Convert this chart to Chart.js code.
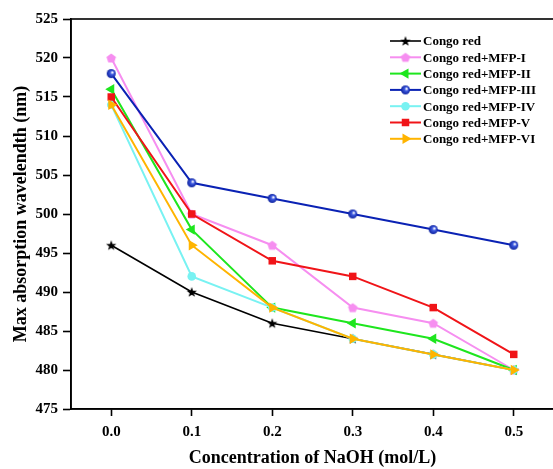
<!DOCTYPE html>
<html>
<head>
<meta charset="utf-8">
<script src="https://cdn.jsdelivr.net/npm/chart.js@4.4.1/dist/chart.umd.min.js"></script>
<style>
    html, body { margin: 0; padding: 0; overflow: hidden; background: #fff; }
    #wrap { width: 553px; height: 469px; overflow: hidden; }
</style>
</head>
<body>
<div id="wrap"><canvas id="chart" width="560" height="469"></canvas></div>
<script>
const concentrations = [0.0, 0.1, 0.2, 0.3, 0.4, 0.5];
const xTicks = [0.0, 0.1, 0.2, 0.3, 0.4, 0.5];
const yTicks = [475, 480, 485, 490, 495, 500, 505, 510, 515, 520, 525];

const seriesNames = [
    'Congo red', 'Congo red+MFP-I', 'Congo red+MFP-II', 'Congo red+MFP-III',
    'Congo red+MFP-IV', 'Congo red+MFP-V', 'Congo red+MFP-VI'
];
const congoRed = [496, 490, 486, 484, 482, 480];
const mfp1 = [520, 500, 496, 488, 486, 480];
const mfp2 = [516, 498, 488, 486, 484, 480];
const mfp3 = [518, 504, 502, 500, 498, 496];
const mfp4 = [514, 492, 488, 484, 482, 480];
const mfp5 = [515, 500, 494, 492, 488, 482];
const mfp6 = [514, 496, 488, 484, 482, 480];

const FONT = "'Liberation Serif', 'Times New Roman', serif";

// small canvases used as custom point markers
const makeMarker = (size, draw) => {
    const c = document.createElement('canvas');
    c.width = size;
    c.height = size;
    draw(c.getContext('2d'), size / 2);
    return c;
};

const starMarker = makeMarker(12, (ctx, m) => {
    ctx.fillStyle = '#000';
    ctx.beginPath();
    for (let i = 0; i < 10; i++) {
        const r = i % 2 === 0 ? 5.4 : 2.2;
        const a = -Math.PI / 2 + i * Math.PI / 5;
        ctx.lineTo(m + r * Math.cos(a), m + 0.5 + r * Math.sin(a));
    }
    ctx.closePath();
    ctx.fill();
});

const pentagonMarker = makeMarker(12, (ctx, m) => {
    ctx.fillStyle = '#f68ef0';
    ctx.beginPath();
    for (let i = 0; i < 5; i++) {
        const a = -Math.PI / 2 + i * 2 * Math.PI / 5;
        ctx.lineTo(m + 5 * Math.cos(a), m + 0.5 + 5 * Math.sin(a));
    }
    ctx.closePath();
    ctx.fill();
});

const sphereMarker = makeMarker(11, (ctx, m) => {
    const g = ctx.createRadialGradient(m + 1.3, m - 1.3, 0.4, m, m, 4.6);
    g.addColorStop(0, '#ffffff');
    g.addColorStop(0.35, '#3f5be0');
    g.addColorStop(1, '#0a1f9c');
    ctx.fillStyle = g;
    ctx.beginPath();
    ctx.arc(m, m, 4.5, 0, Math.PI * 2);
    ctx.fill();
});

const styles = [
    { color: '#000000', pointStyle: starMarker, rotation: 0, radius: 5, width: 1.6 },
    { color: '#f68ef0', pointStyle: pentagonMarker, rotation: 0, radius: 5, width: 2 },
    { color: '#1ee61e', pointStyle: 'triangle', rotation: -90, radius: 6, width: 2 },
    { color: '#0a22b4', pointStyle: sphereMarker, rotation: 0, radius: 5, width: 2 },
    { color: '#78f2f2', pointStyle: 'circle', rotation: 0, radius: 4.3, width: 2 },
    { color: '#f01418', pointStyle: 'rect', rotation: 0, radius: 5.3, width: 2 },
    { color: '#ffb400', pointStyle: 'triangle', rotation: 90, radius: 6, width: 2 }
];

const allSeries = [congoRed, mfp1, mfp2, mfp3, mfp4, mfp5, mfp6];

const datasets = allSeries.map((values, i) => ({
    label: seriesNames[i],
    data: values.map((v, j) => ({ x: concentrations[j], y: v })),
    borderColor: styles[i].color,
    backgroundColor: styles[i].color,
    borderWidth: styles[i].width,
    pointStyle: styles[i].pointStyle,
    pointRotation: styles[i].rotation,
    pointRadius: styles[i].radius,
    pointBorderWidth: 0,
    pointHoverRadius: styles[i].radius,
    order: allSeries.length - i, // later series drawn on top
    tension: 0
}));

// frame around the plot area (top and right sides)
const framePlugin = {
    id: 'frame',
    afterDraw(chart) {
        const { ctx, chartArea } = chart;
        ctx.save();
        ctx.strokeStyle = '#000';
        ctx.lineWidth = 1.6;
        ctx.strokeRect(chartArea.left, chartArea.top, chartArea.right - chartArea.left, chartArea.bottom - chartArea.top);
        ctx.restore();
    }
};

// legend with line + marker, placed inside plot
const legendPlugin = {
    id: 'lineLegend',
    afterDraw(chart) {
        const { ctx } = chart;
        const x1 = 390, x2 = 421, y0 = 41, step = 16.3;
        ctx.save();
        chart.data.datasets.forEach((ds, i) => {
            const y = y0 + i * step;
            ctx.strokeStyle = ds.borderColor;
            ctx.fillStyle = ds.backgroundColor;
            ctx.lineWidth = ds.borderWidth;
            ctx.beginPath();
            ctx.moveTo(x1, y);
            ctx.lineTo(x2, y);
            ctx.stroke();
            Chart.helpers.drawPoint(ctx, {
                pointStyle: ds.pointStyle,
                rotation: ds.pointRotation,
                radius: ds.pointRadius,
                borderWidth: 0
            }, (x1 + x2) / 2, y);
            ctx.fillStyle = '#000';
            ctx.font = 'bold 13px ' + FONT;
            ctx.textBaseline = 'middle';
            ctx.textAlign = 'left';
            ctx.fillText(ds.label, x2 + 2, y + 1);
        });
        ctx.restore();
    }
};

new Chart(document.getElementById('chart').getContext('2d'), {
    type: 'line',
    data: { datasets },
    options: {
        responsive: false,
        animation: false,
        layout: { padding: { top: 19, right: 5, left: 0, bottom: 0 } },
        plugins: {
            legend: { display: false },
            tooltip: { enabled: false }
        },
        scales: {
            x: {
                type: 'linear',
                min: -0.05,
                max: 0.55,
                afterBuildTicks: scale => { scale.ticks = xTicks.map(v => ({ value: v })); },
                afterFit: scale => { scale.height = 60; },
                ticks: {
                    callback: v => Number(v).toFixed(1),
                    color: '#000',
                    font: { family: FONT, size: 15, weight: 'bold' },
                    padding: 7,
                    maxRotation: 0
                },
                grid: {
                    display: true,
                    drawOnChartArea: false,
                    drawTicks: true,
                    tickLength: 7,
                    tickColor: '#000',
                    tickWidth: 1.6
                },
                border: { display: true, color: '#000', width: 1.6 },
                title: {
                    display: true,
                    text: 'Concentration of NaOH (mol/L)',
                    color: '#000',
                    font: { family: FONT, size: 18, weight: 'bold' },
                    padding: { top: 0, bottom: 0 }
                }
            },
            y: {
                min: 475,
                max: 525,
                afterBuildTicks: scale => { scale.ticks = yTicks.map(v => ({ value: v })); },
                afterFit: scale => { scale.width = 71; },
                ticks: {
                    color: '#000',
                    font: { family: FONT, size: 15, weight: 'bold' },
                    padding: 5
                },
                grid: {
                    display: true,
                    drawOnChartArea: false,
                    drawTicks: true,
                    tickLength: 8,
                    tickColor: '#000',
                    tickWidth: 1.6
                },
                border: { display: true, color: '#000', width: 1.6 },
                title: {
                    display: true,
                    text: 'Max absorption wavelendth (nm)',
                    color: '#000',
                    font: { family: FONT, size: 18, weight: 'bold' },
                    padding: { top: 11, bottom: 0 }
                }
            }
        }
    },
    plugins: [framePlugin, legendPlugin]
});
</script>
</body>
</html>
